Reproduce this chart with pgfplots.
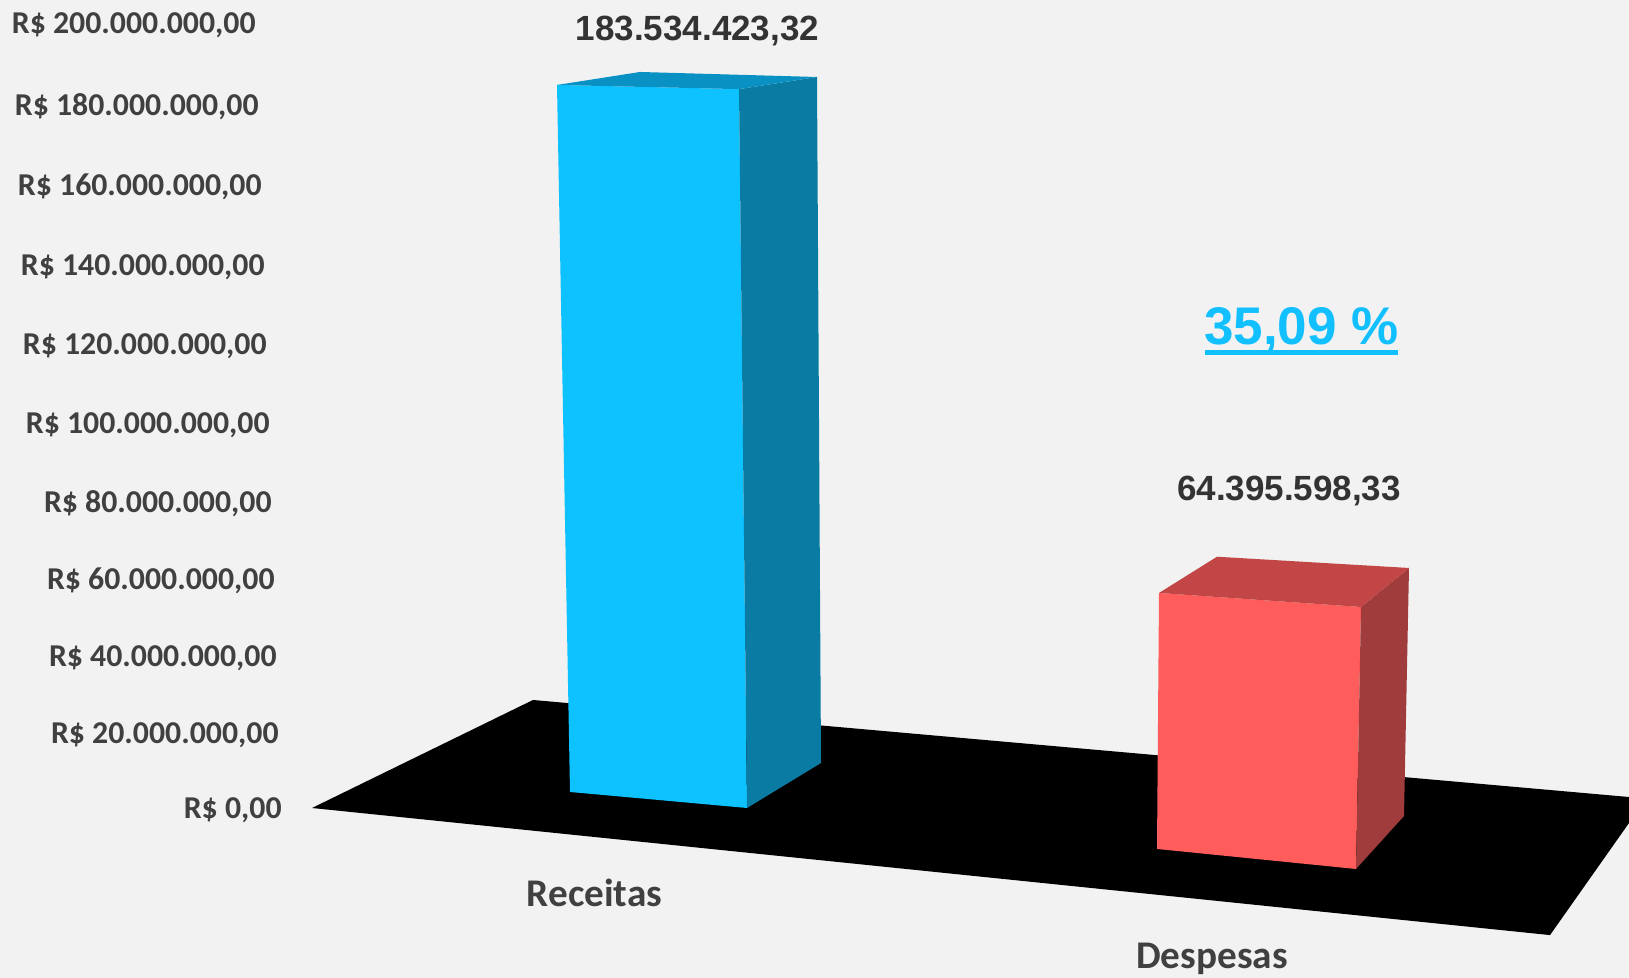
\documentclass[border=0pt]{standalone}
\usepackage{pgfplots}
\pgfplotsset{compat=1.18}
\usepackage{fontspec}
\newfontfamily\carlito{Carlito}
\newfontfamily\arialf{Liberation Sans}
\definecolor{bg}{HTML}{F2F2F2}
\definecolor{txt}{HTML}{404040}
\definecolor{valtxt}{HTML}{333333}
\definecolor{bfront}{HTML}{0DC2FF}
\definecolor{bside}{HTML}{0A7CA3}
\definecolor{btop}{HTML}{0891C2}
\definecolor{rfront}{HTML}{FF5C5C}
\definecolor{rside}{HTML}{A13C3C}
\definecolor{rtop}{HTML}{C24646}
\definecolor{pct}{HTML}{12C0FF}
\begin{document}
\begin{tikzpicture}
\begin{axis}[
  width=814.5pt, height=489pt, scale only axis,
  xmin=0, xmax=1629, ymin=-42.93, ymax=206.24,
  axis line style={draw=none}, ticks=none,
  axis background/.style={fill=bg},
]
% floor
\addplot[fill=black, draw=none] coordinates {(312,0.38) (533,27.90) (1629,3.18) (1629,-3.44) (1550,-32.00)};
% Receitas bar (front top-right corner = 183.53)
\addplot[fill=bfront, draw=none] coordinates {(557,184.59) (739,183.53) (747,0.38) (570,4.46)};
\addplot[fill=bside, draw=none] coordinates {(739,183.53) (817,186.62) (821,11.85) (747,0.38)};
\addplot[fill=btop, draw=none] coordinates {(557,184.59) (640,187.90) (817,186.62) (739,183.53)};
% Despesas bar (back top corner = 64.40)
\addplot[fill=rfront, draw=none] coordinates {(1159,55.16) (1361,51.59) (1356,-15.16) (1157,-10.06)};
\addplot[fill=rside, draw=none] coordinates {(1361,51.59) (1409,61.53) (1404,-1.66) (1356,-15.16)};
\addplot[fill=rtop, draw=none] coordinates {(1159,55.16) (1217,64.40) (1409,61.53) (1361,51.59)};
% y labels
\begin{scope}[every node/.style={anchor=base east, inner sep=0pt, text=txt, font=\carlito\bfseries\fontsize{15.9}{18}\selectfont}]
\node at (axis cs:256,197.58) {R\$ 200.000.000,00};
\node at (axis cs:259,176.69) {R\$ 180.000.000,00};
\node at (axis cs:262,156.43) {R\$ 160.000.000,00};
\node at (axis cs:265,136.05) {R\$ 140.000.000,00};
\node at (axis cs:267,115.92) {R\$ 120.000.000,00};
\node at (axis cs:270,95.80) {R\$ 100.000.000,00};
\node at (axis cs:272,75.67) {R\$ 80.000.000,00};
\node at (axis cs:275,56.05) {R\$ 60.000.000,00};
\node at (axis cs:277,36.43) {R\$ 40.000.000,00};
\node at (axis cs:279,16.89) {R\$ 20.000.000,00};
\node at (axis cs:282,-2.42) {R\$ 0,00};
\end{scope}
% category labels
\node[anchor=base, inner sep=0pt, text=txt, font=\carlito\bfseries\fontsize{19.6}{22}\selectfont] at (axis cs:594.5,-24.84) {Receitas};
\node[anchor=base, inner sep=0pt, text=txt, font=\carlito\bfseries\fontsize{19.6}{22}\selectfont] at (axis cs:1212,-40.40) {Despesas};
% value labels
\node[anchor=base, inner sep=0pt, text=valtxt, font=\arialf\bfseries\fontsize{17.5}{20}\selectfont] at (axis cs:697.5,195.80) {183.534.423,32};
\node[anchor=base, inner sep=0pt, text=valtxt, font=\arialf\bfseries\fontsize{17.5}{20}\selectfont] at (axis cs:1289,78.60) {64.395.598,33};
% percentage
\node[anchor=base, inner sep=0pt, text=pct, font=\arialf\bfseries\fontsize{26.5}{30}\selectfont] at (axis cs:1301.5,118.34) {35,09 \%};
\draw[pct, line width=2.5pt] (axis cs:1205,116.43) -- (axis cs:1398,116.43);
\end{axis}
\end{tikzpicture}
\end{document}
